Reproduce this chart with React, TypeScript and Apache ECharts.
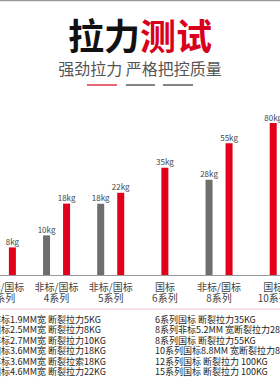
import React, { useEffect, useRef } from "react";
import * as echarts from "echarts";

const categories = ["非标/国标\n3系列", "非标/国标\n4系列", "非标/国标\n5系列", "国标\n6系列", "非标/国标\n8系列", "国标\n10系列"];
const nonStandardKg: (number | null)[] = [5, 10, 18, null, 28, null];
const standardKg: number[] = [8, 18, 22, 35, 55, 80];

const leftNotes = [
  "非标1.9MM宽 断裂拉力5KG",
  "国标2.5MM宽 断裂拉力8KG",
  "非标2.7MM宽 断裂拉力10KG",
  "国标3.6MM宽 断裂拉力18KG",
  "非标3.6MM宽 断裂拉索18KG",
  "国标4.6MM宽 断裂拉力22KG",
];
const rightNotes = [
  "6系列国标 断裂拉力35KG",
  "8系列非标5.2MM 宽断裂拉力28KG",
  "8系列国标 断裂拉力55KG",
  "10系列国标8.8MM 宽断裂拉力80KG",
  "12系列国标 断裂拉力 100KG",
  "15系列国标 断裂拉力 100KG",
];

const FONT = '"Noto Sans CJK SC", "Noto Sans", sans-serif';
const RED = "#e3001b";
const GRAY = "#6e6e6e";
const OFF = 25; // chart canvas extends this far left of the visible page
const CW = 340; // chart canvas width

export default function App() {
  const ref = useRef<HTMLDivElement>(null);
  useEffect(() => {
    if (!ref.current) return;
    const chart = echarts.init(ref.current, undefined, { renderer: "svg" });
    const gray = nonStandardKg.map((v) => (v == null ? "-" : v));
    const redPaired = standardKg.map((v, i) => (nonStandardKg[i] == null ? "-" : v));
    const redSingle = standardKg.map((v, i) => (nonStandardKg[i] == null ? v : "-"));
    const label = {
      show: true,
      position: "top",
      distance: 2,
      fontSize: 8,
      color: "#444",
      fontFamily: FONT,
      formatter: (p: any) => p.value + "kg",
    };
    const gridLeft = OFF - 24.7;
    const gridWidth = 325;
    chart.setOption({
      animation: false,
      grid: { left: gridLeft, width: gridWidth, top: 99, bottom: 105 },
      xAxis: [
        {
          type: "category",
          data: categories,
          axisLine: { lineStyle: { color: "#999", width: 1 } },
          axisTick: { show: false },
          axisLabel: { interval: 0, fontSize: 10, color: "#444", lineHeight: 11, margin: 6, fontFamily: FONT },
        },
        { type: "category", data: categories, show: false },
      ],
      yAxis: {
        type: "log",
        logBase: 10,
        min: 4.8,
        max: 125,
        show: false,
        splitLine: { show: false },
      },
      series: [
        { type: "bar", xAxisIndex: 0, data: gray, barWidth: 7, barGap: "186%", itemStyle: { color: GRAY }, label },
        { type: "bar", xAxisIndex: 0, data: redPaired, barWidth: 7, barGap: "186%", itemStyle: { color: RED }, label },
        { type: "bar", xAxisIndex: 1, data: redSingle, barWidth: 7, itemStyle: { color: RED }, label },
      ],
      graphic: [
        { type: "line", shape: { x1: OFF, y1: 0.5, x2: OFF + 280, y2: 0.5 }, style: { stroke: "#9a9a9a", lineWidth: 1.5 } },
        {
          type: "text",
          x: OFF + 140,
          y: 34,
          style: {
            text: "{a|拉力}{b|测试}",
            align: "center",
            verticalAlign: "middle",
            rich: {
              a: { fontSize: 36, fontWeight: "bold", fill: "#111", fontFamily: FONT },
              b: { fontSize: 36, fontWeight: "bold", fill: "#d9001b", fontFamily: FONT },
            },
          },
        },
        {
          type: "text",
          x: OFF + 140,
          y: 68,
          style: { text: "强劲拉力 严格把控质量", align: "center", verticalAlign: "middle", fontSize: 16, fill: "#555", fontFamily: FONT },
        },
        { type: "line", shape: { x1: OFF + 87, y1: 85, x2: OFF + 117, y2: 85 }, style: { stroke: "#d9001b", lineWidth: 1.2 } },
        { type: "line", shape: { x1: OFF + 126, y1: 85, x2: OFF + 155, y2: 85 }, style: { stroke: "#333", lineWidth: 1.2 } },
        { type: "line", shape: { x1: OFF + 163, y1: 85, x2: OFF + 193, y2: 85 }, style: { stroke: "#333", lineWidth: 1.2 } },
        { type: "line", shape: { x1: OFF, y1: 309, x2: OFF + 280, y2: 309 }, style: { stroke: "#f0c2cb", lineWidth: 1 } },
        {
          type: "text",
          x: OFF - 8,
          y: 313.7,
          style: { text: leftNotes.join("\n"), align: "left", verticalAlign: "top", fontSize: 9, lineHeight: 10.6, fill: "#222", fontFamily: FONT },
        },
        {
          type: "text",
          x: OFF + 155,
          y: 313.7,
          style: { text: rightNotes.join("\n"), align: "left", verticalAlign: "top", fontSize: 9, lineHeight: 10.6, fill: "#222", fontFamily: FONT },
        },
      ],
    });
    return () => chart.dispose();
  }, []);
  return (
    <div style={{ position: "absolute", left: 0, top: 0, width: 280, height: 380, overflow: "hidden", background: "#fff" }}>
      <div ref={ref} style={{ position: "absolute", left: -OFF, top: 0, width: CW, height: 380 }} />
    </div>
  );
}
